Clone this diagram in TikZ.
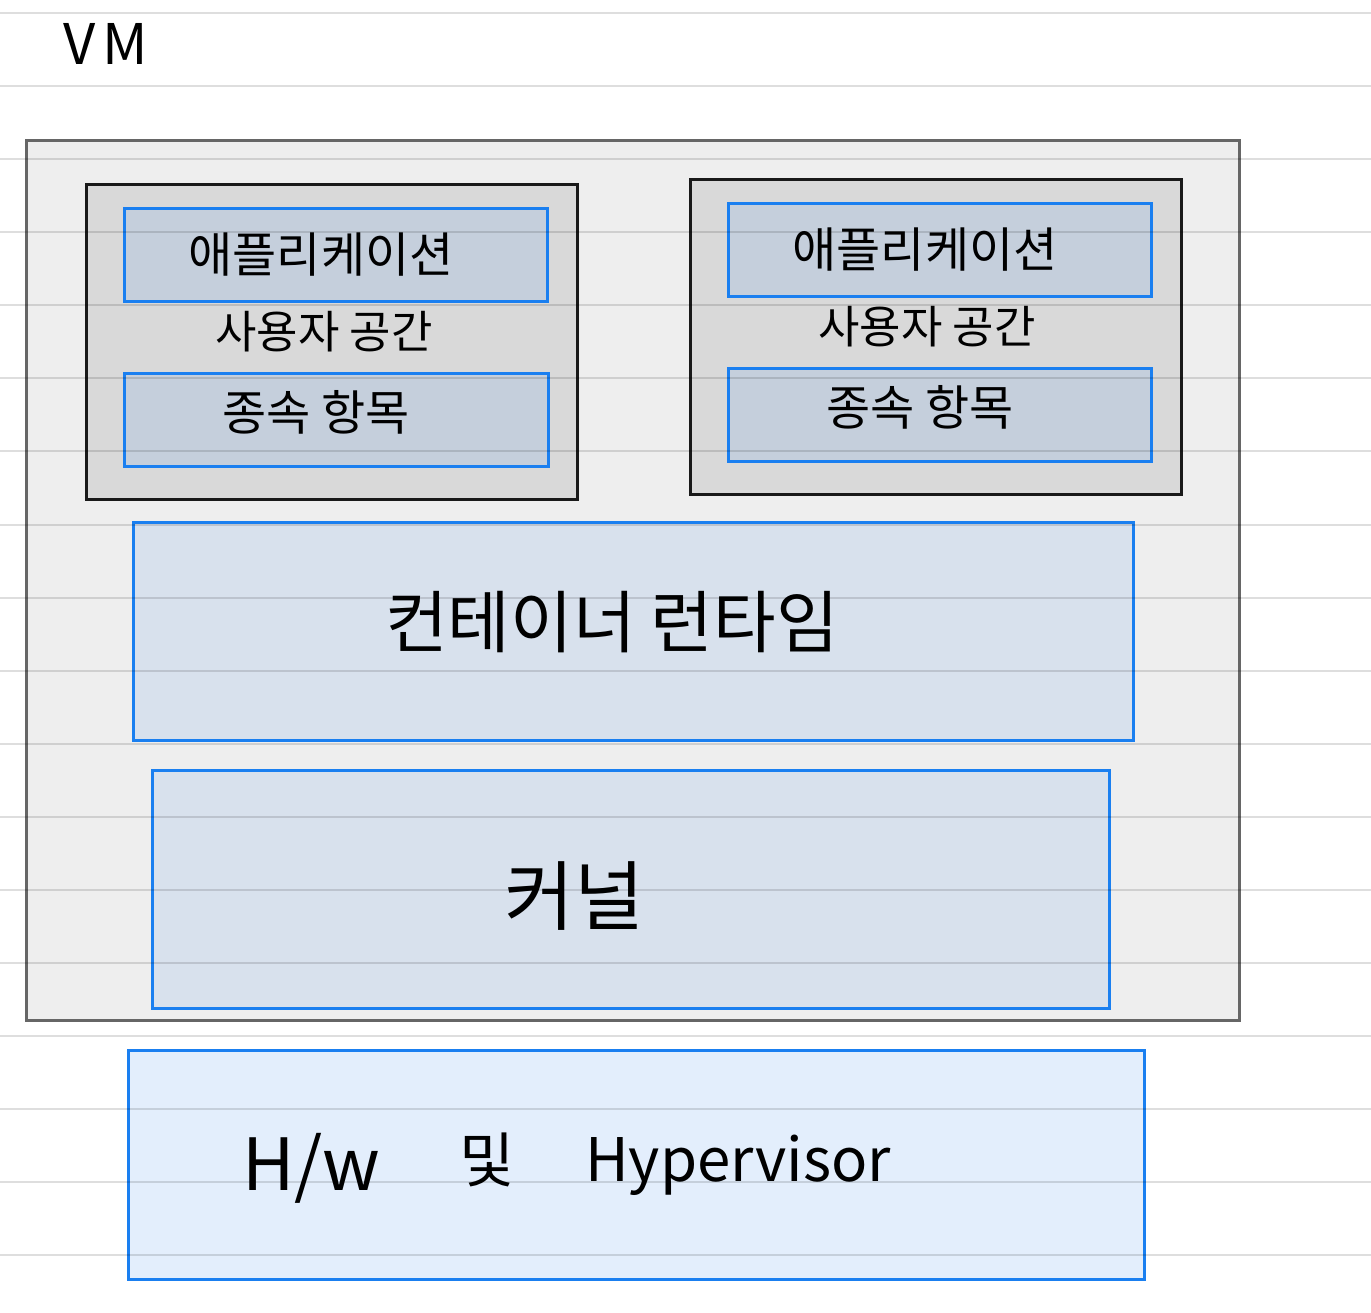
\documentclass[tikz,border=0pt]{standalone}
\usepackage{fontspec}
\newfontfamily\kr{Noto Sans CJK KR}
\definecolor{vmfill}{HTML}{EEEEEE}
\definecolor{vmdraw}{HTML}{666666}
\definecolor{ctfill}{HTML}{D9D9D9}
\definecolor{inblue}{HTML}{1A7FF0}
\definecolor{appfill}{HTML}{C5CFDC}
\definecolor{layfill}{HTML}{D8E1ED}
\definecolor{hwfill}{HTML}{E3EEFC}
\tikzset{
  box/.style={rectangle, inner sep=0pt, outer sep=0pt},
  vmbox/.style={box, fill=vmfill, draw=vmdraw, line width=3pt},
  ctbox/.style={box, fill=ctfill, draw=black!90, line width=3pt},
  bluebox/.style={box, draw=inblue, line width=3pt},
  lbl/.style={font=\kr, text=black, inner sep=0pt},
  ruled/.style={draw=black, opacity=0.13, line width=2pt}
}
\begin{document}
\begin{tikzpicture}[x=1pt,y=-1pt]
\fill[white] (0,0) rectangle (1371,1313);
\useasboundingbox (0,0) rectangle (1371,1313);
% VM frame
\node[vmbox, minimum width=1213pt, minimum height=879pt] (vm) at (632.5,580.5) {};
% container boxes
\node[ctbox, minimum width=491pt, minimum height=314pt] (lc) at (331.5,342) {};
\node[ctbox, minimum width=491pt, minimum height=314pt] (rc) at (935.5,337) {};
\node[bluebox, fill=appfill, minimum width=423pt, minimum height=93pt] (la) at (335.5,255.5) {};
\node[bluebox, fill=appfill, minimum width=424pt, minimum height=92pt] (ld) at (336,420) {};
\node[bluebox, fill=appfill, minimum width=423pt, minimum height=93pt] (ra) at (939.5,250.5) {};
\node[bluebox, fill=appfill, minimum width=423pt, minimum height=92pt] (rd) at (939.5,415) {};
% layers
\node[bluebox, fill=layfill, minimum width=1000pt, minimum height=218pt] (cr) at (633,631) {};
\node[bluebox, fill=layfill, minimum width=957pt, minimum height=238pt] (kn) at (630.5,889) {};
\node[bluebox, fill=hwfill, minimum width=1016pt, minimum height=229pt] (hw) at (636,1164.5) {};
% ruled paper lines
\foreach \i in {0,...,17} {
  \draw[ruled] (0,13+73.08*\i) -- (1371,13+73.08*\i);
}
% labels
\node[lbl, font=\kr\fontsize{56}{64}\selectfont] (tvm) at (106,44) {V\hspace{0.12em}M};
\node[lbl, font=\kr\fontsize{48}{56}\selectfont] (tla) at (321,255) {애플리케이션};
\node[lbl, font=\kr\fontsize{45}{52}\selectfont] (tlu) at (324,332) {사용자 공간};
\node[lbl, font=\kr\fontsize{48}{56}\selectfont] (tld) at (316,412) {종속 항목};
\node[lbl, font=\kr\fontsize{48}{56}\selectfont] (tra) at (925,250) {애플리케이션};
\node[lbl, font=\kr\fontsize{45}{52}\selectfont] (tru) at (927,327) {사용자 공간};
\node[lbl, font=\kr\fontsize{48}{56}\selectfont] (trd) at (920,407) {종속 항목};
\node[lbl, font=\kr\fontsize{68}{78}\selectfont] (tcr) at (612,622) {컨테이너 런타임};
\node[lbl, font=\kr\fontsize{76}{86}\selectfont] (tkn) at (574,896) {커널};
\node[lbl, font=\kr\fontsize{72}{82}\selectfont, anchor=base west] (thw1) at (242,1190) {H/w};
\node[lbl, font=\kr\fontsize{60}{70}\selectfont] (thw2) at (487,1160) {및};
\node[lbl, font=\kr\fontsize{60}{70}\selectfont] (thw3) at (738,1165) {Hypervisor};
\end{tikzpicture}
\end{document}
